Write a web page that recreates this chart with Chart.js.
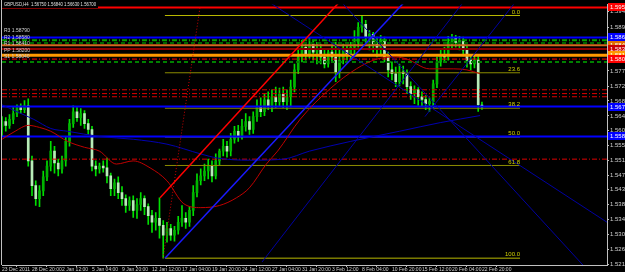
<!DOCTYPE html>
<html>
<head>
<meta charset="utf-8">
<script src="https://cdn.jsdelivr.net/npm/chart.js@4.4.0/dist/chart.umd.min.js"></script>
<style>
  html, body { margin: 0; padding: 0; background: #000; }
  #wrap { width: 625px; height: 272px; }
</style>
</head>
<body>
<div id="wrap"><canvas id="chart" width="625" height="272"></canvas></div>
<script>
// GBPUSD H4, one candle per two bars (bar index = 2 * i)
const opens = [1.5614,1.5628,1.5617,1.5634,1.5651,1.5668,1.5662,1.5673,1.5515,1.5444,
  1.5407,1.5429,1.5469,1.5500,1.5543,1.5509,1.5492,1.5515,1.5571,1.5622,
  1.5656,1.5639,1.5651,1.5622,1.5605,1.5500,1.5492,1.5500,1.5495,1.5472,
  1.5435,1.5452,1.5424,1.5407,1.5387,1.5401,1.5373,1.5390,1.5407,1.5384,
  1.5358,1.5339,1.5350,1.5330,1.5302,1.5321,1.5302,1.5316,1.5339,1.5350,
  1.5339,1.5373,1.5424,1.5458,1.5472,1.5486,1.5500,1.5472,1.5515,1.5543,
  1.5557,1.5543,1.5577,1.5600,1.5585,1.5614,1.5628,1.5605,1.5642,1.5670,
  1.5656,1.5690,1.5673,1.5699,1.5685,1.5707,1.5685,1.5699,1.5727,1.5776,
  1.5813,1.5841,1.5821,1.5850,1.5827,1.5838,1.5813,1.5793,1.5827,1.5813,
  1.5770,1.5804,1.5833,1.5821,1.5841,1.5855,1.5898,1.5907,1.5870,1.5878,
  1.5850,1.5841,1.5861,1.5813,1.5776,1.5765,1.5742,1.5770,1.5765,1.5728,
  1.5708,1.5719,1.5699,1.5691,1.5679,1.5685,1.5736,1.5799,1.5821,1.5813,
  1.5855,1.5867,1.5855,1.5861,1.5833,1.5804,1.5793,1.5804,1.5675];
const highs = [1.5642,1.5639,1.5648,1.5668,1.5676,1.5679,1.5688,1.5693,1.5529,1.5458,
  1.5444,1.5486,1.5515,1.5571,1.5557,1.5520,1.5529,1.5585,1.5634,1.5673,
  1.5668,1.5665,1.5659,1.5634,1.5614,1.5515,1.5509,1.5515,1.5523,1.5480,
  1.5463,1.5469,1.5441,1.5418,1.5412,1.5415,1.5407,1.5424,1.5415,1.5392,
  1.5373,1.5367,1.5409,1.5344,1.5339,1.5333,1.5327,1.5356,1.5387,1.5367,
  1.5384,1.5444,1.5478,1.5492,1.5506,1.5520,1.5515,1.5535,1.5549,1.5577,
  1.5571,1.5594,1.5614,1.5617,1.5634,1.5651,1.5642,1.5656,1.5690,1.5696,
  1.5707,1.5713,1.5719,1.5727,1.5724,1.5727,1.5719,1.5747,1.5793,1.5833,
  1.5861,1.5855,1.5867,1.5861,1.5855,1.5850,1.5833,1.5838,1.5844,1.5855,
  1.5833,1.5850,1.5844,1.5855,1.5889,1.5912,1.5932,1.5918,1.5889,1.5884,
  1.5870,1.5875,1.5870,1.5827,1.5799,1.5784,1.5793,1.5787,1.5776,1.5742,
  1.5730,1.5725,1.5713,1.5702,1.5696,1.5747,1.5813,1.5838,1.5841,1.5872,
  1.5878,1.5875,1.5872,1.5870,1.5844,1.5821,1.5821,1.5821,1.5684];
const lows = [1.5585,1.5600,1.5608,1.5622,1.5642,1.5651,1.5653,1.5500,1.5415,1.5387,
  1.5384,1.5415,1.5458,1.5486,1.5480,1.5472,1.5480,1.5500,1.5557,1.5611,
  1.5628,1.5617,1.5608,1.5591,1.5486,1.5472,1.5480,1.5483,1.5452,1.5415,
  1.5415,1.5407,1.5387,1.5367,1.5373,1.5353,1.5350,1.5373,1.5361,1.5333,
  1.5310,1.5316,1.5293,1.5236,1.5282,1.5287,1.5285,1.5305,1.5327,1.5321,
  1.5327,1.5358,1.5412,1.5446,1.5458,1.5463,1.5455,1.5463,1.5503,1.5529,
  1.5526,1.5529,1.5566,1.5571,1.5577,1.5600,1.5591,1.5594,1.5628,1.5642,
  1.5645,1.5662,1.5656,1.5668,1.5673,1.5668,1.5662,1.5670,1.5713,1.5765,
  1.5799,1.5804,1.5810,1.5804,1.5793,1.5793,1.5782,1.5784,1.5799,1.5742,
  1.5753,1.5793,1.5804,1.5804,1.5821,1.5841,1.5884,1.5855,1.5833,1.5827,
  1.5813,1.5821,1.5799,1.5756,1.5747,1.5728,1.5730,1.5736,1.5708,1.5691,
  1.5679,1.5674,1.5671,1.5662,1.5657,1.5668,1.5725,1.5787,1.5799,1.5804,
  1.5838,1.5841,1.5833,1.5816,1.5784,1.5776,1.5782,1.5657,1.5663];
const closes = [1.5628,1.5617,1.5634,1.5651,1.5668,1.5662,1.5673,1.5515,1.5444,1.5407,
  1.5429,1.5469,1.5500,1.5543,1.5509,1.5492,1.5515,1.5571,1.5622,1.5656,
  1.5639,1.5651,1.5622,1.5605,1.5500,1.5492,1.5500,1.5495,1.5472,1.5435,
  1.5452,1.5424,1.5407,1.5387,1.5401,1.5373,1.5390,1.5407,1.5384,1.5358,
  1.5339,1.5350,1.5330,1.5302,1.5321,1.5302,1.5316,1.5339,1.5350,1.5339,
  1.5373,1.5424,1.5458,1.5472,1.5486,1.5500,1.5472,1.5515,1.5543,1.5557,
  1.5543,1.5577,1.5600,1.5585,1.5614,1.5628,1.5605,1.5642,1.5670,1.5656,
  1.5690,1.5673,1.5699,1.5685,1.5707,1.5685,1.5699,1.5727,1.5776,1.5813,
  1.5841,1.5821,1.5850,1.5827,1.5838,1.5813,1.5793,1.5827,1.5813,1.5770,
  1.5804,1.5833,1.5821,1.5841,1.5855,1.5898,1.5907,1.5870,1.5878,1.5850,
  1.5841,1.5861,1.5813,1.5776,1.5765,1.5742,1.5770,1.5765,1.5728,1.5708,
  1.5719,1.5699,1.5691,1.5679,1.5685,1.5736,1.5799,1.5821,1.5813,1.5855,
  1.5867,1.5855,1.5861,1.5833,1.5804,1.5793,1.5804,1.5676,1.5670];

// time axis (bar index -> label)
const tickBars = [0,16,32,48,64,80,96,112,128,144,160,176,192,208,224,240,256];
const tickLabels = ['23 Dec 2011','28 Dec 20:00','2 Jan 12:00','5 Jan 04:00','9 Jan 20:00',
  '12 Jan 12:00','17 Jan 04:00','19 Jan 20:00','24 Jan 12:00','27 Jan 04:00','31 Jan 20:00',
  '3 Feb 12:00','8 Feb 04:00','10 Feb 20:00','15 Feb 12:00','20 Feb 04:00','22 Feb 20:00'];
const priceTicks = [1.59430,1.58990,1.58550,1.58150,1.57730,1.57290,1.56870,1.56440,1.56020,
  1.55590,1.55170,1.54740,1.54330,1.53890,1.53460,1.53040,1.52610,1.52190];

// moving averages [bar, price]
const redMA = [[0,1.5577],[7,1.5600],[14,1.5617],[20,1.5611],[26,1.5600],[35,1.5571],[44,1.5554],
  [52,1.5543],[61,1.5506],[70,1.5515],[79,1.5495],[88,1.5458],[97,1.5392],[106,1.5381],[116,1.5387],
  [125,1.5409],[132,1.5438],[141,1.5506],[147,1.5543],[159,1.5634],[175,1.5722],[189,1.5779],
  [200,1.5807],[210,1.5813],[216,1.5807],[228,1.5779],[241,1.5779],[248,1.5776],[255,1.5765]];
const blueMA = [[0,1.5676],[8,1.5656],[17,1.5634],[26,1.5608],[35,1.5600],[52,1.5585],[70,1.5577],
  [88,1.5563],[106,1.5535],[115,1.5523],[132,1.5517],[150,1.5520],[164,1.5543],[186,1.5571],
  [212,1.5600],[234,1.5625],[255,1.5645]];

// horizontal levels
const levelPrices = [1.5955,1.5869,1.5861,1.5853,1.5847,1.5836,1.5818,1.5807,1.5799,
  1.5719,1.5708,1.5699,1.5671,1.5585,1.5520];
const boxPrices = [1.5955,1.5869,1.5847,1.5836,1.5818,1.5807,1.5671,1.5585];

// trend lines [bar, price]
const redChannel = [[84.3,1.5409],[179.7,1.5969]];
const redDotted = [[85.9,1.5236],[105.6,1.5955]];
const blueTrend = [[86.9,1.5236],[214.4,1.5969]];
const navyA = [[138.7,1.5225],[245.9,1.5969]];
const navyB = [[225.6,1.5642],[273.6,1.5969]];
const navyC = [[181.3,1.5969],[309.9,1.5216]];
const navyD = [[142.9,1.5969],[322.7,1.5339]];

// fibonacci
const fibLevels = [0, 23.6, 38.2, 50, 61.8, 100];
const fibHigh = 1.5932, fibLow = 1.5236;
const fibStart = 86.9, fibEnd = 276.3;

const lineNotes = ['R3 1.58790', 'R2 1.58580', 'R1 1.58410', 'PP 1.58200', 'S1 1.58040'];
const notePrices = [1.5879, 1.5858, 1.5841, 1.5822, 1.5804];

const XMAX = 322.7;
const ff = '"Liberation Sans", Arial, sans-serif';

const levelStyles = [
  {c:'#ff0000', w:2}, {c:'#0000ff', w:2}, {c:'#00a000', w:2, d:[5,2,1,2]}, {c:'#006400', w:2, d:[4,3]},
  {c:'#d2691e', w:2}, {c:'#8b0000', w:2}, {c:'#ff9900', w:3}, {c:'#ff0000', w:1, d:[5,2,1,2]},
  {c:'#008000', w:2, d:[4,3]}, {c:'#dd0000', w:1, d:[5,2,1,2]}, {c:'#dd0000', w:1, d:[5,2,1,2]},
  {c:'#dd0000', w:1, d:[5,2,1,2]}, {c:'#0000ff', w:2}, {c:'#0000ff', w:2}, {c:'#dd0000', w:1, d:[5,2,1,2]}
];
const boxColors = ['#ff0000','#0000ff','#e07000','#cc0000','#ff9900','#ff0000','#0000ff','#0000ff'];
const fibColors = ['#b8b800','#8c8c00','#8c8c00','#b0b0b0','#8c8c00','#b8b800'];

function seg(points, color, width, dash, order) {
  return {
    type: 'line',
    data: points.map(p => ({x: p[0], y: p[1]})),
    borderColor: color, borderWidth: width, borderDash: dash || [],
    pointRadius: 0, fill: false, tension: 0, order: order || 1
  };
}

const datasets = [];
levelPrices.forEach((p, i) => {
  const s = levelStyles[i];
  datasets.push(seg([[0, p], [XMAX, p]], s.c, s.w, s.d, 2));
});
fibLevels.forEach((l, i) => {
  const p = fibHigh - (fibHigh - fibLow) * l / 100;
  datasets.push(seg([[fibStart, p], [fibEnd, p]], fibColors[i], 1, null, 3));
});
datasets.push(seg(redChannel, '#ff0000', 1.5));
datasets.push(seg(redDotted, '#cc0000', 1, [1,2]));
datasets.push(seg(blueTrend, '#1a1aff', 1.5));
[navyA, navyB, navyC, navyD].forEach(l => datasets.push(seg(l, '#0000a0', 1)));
datasets.push(Object.assign(seg(redMA, '#c00000', 1), {tension: 0.4, cubicInterpolationMode: 'monotone'}));
datasets.push(Object.assign(seg(blueMA, '#0000b0', 1), {tension: 0.4, cubicInterpolationMode: 'monotone'}));

// candles: wicks + bodies
datasets.push({
  type: 'bar', order: 6, grouped: false,
  data: highs.map((h, i) => ({x: i * 2, y: [lows[i], h]})),
  backgroundColor: '#00e000', barThickness: 1, borderWidth: 0
});
datasets.push({
  type: 'bar', order: 5, grouped: false, minBarLength: 1,
  data: opens.map((o, i) => ({x: i * 2, y: [o, closes[i]]})),
  backgroundColor: opens.map((o, i) => closes[i] >= o ? '#00b400' : '#b8ecb8'),
  barThickness: 2, borderWidth: 0
});

const overlay = {
  id: 'overlay',
  afterDraw(chart) {
    const ctx = chart.ctx, xs = chart.scales.x, ys = chart.scales.y;
    ctx.save();
    // left border
    ctx.strokeStyle = '#c0c0c0'; ctx.lineWidth = 1;
    ctx.beginPath(); ctx.moveTo(1.5, 0); ctx.lineTo(1.5, ys.bottom); ctx.stroke();
    // fib labels
    ctx.font = '6px ' + ff;
    ctx.textAlign = 'right'; ctx.textBaseline = 'bottom';
    ctx.fillStyle = '#d0d000';
    const xe = xs.getPixelForValue(fibEnd);
    fibLevels.forEach(l => {
      const p = fibHigh - (fibHigh - fibLow) * l / 100;
      ctx.fillText(l.toFixed(1), xe, ys.getPixelForValue(p) - 0.5);
    });
    // notes on the left
    ctx.textAlign = 'left'; ctx.textBaseline = 'bottom';
    ctx.font = '5px ' + ff;
    ctx.fillStyle = '#d0d0d0';
    lineNotes.forEach((t, i) => ctx.fillText(t, 4, ys.getPixelForValue(notePrices[i]) - 1, 32));
    // price boxes on the axis
    ctx.textBaseline = 'middle';
    ctx.font = '6px ' + ff;
    boxPrices.forEach((p, i) => {
      const y = Math.round(ys.getPixelForValue(p));
      ctx.fillStyle = boxColors[i];
      ctx.fillRect(xs.right + 1, y - 4, chart.width - xs.right, 8);
      ctx.fillStyle = '#ffffff';
      ctx.fillText(p.toFixed(5), xs.right + 3, y);
    });
    // header
    const hdr = 'GBPUSD,H4  ' + [opens[128], highs[128], lows[128], closes[128]].map(v => v.toFixed(5)).join(' ');
    ctx.fillStyle = '#000';
    ctx.fillRect(2, 0, 96, 8);
    ctx.fillStyle = '#e0e0e0';
    ctx.font = '6px ' + ff;
    ctx.fillText(hdr, 4, 4.5, 92);
    ctx.restore();
  }
};

new Chart(document.getElementById('chart'), {
  type: 'bar',
  data: { datasets },
  options: {
    responsive: false,
    animation: false,
    events: [],
    layout: { autoPadding: false, padding: { left: 2, top: 2, right: 0, bottom: 0 } },
    plugins: { legend: { display: false }, tooltip: { enabled: false } },
    scales: {
      x: {
        type: 'linear', min: 0, max: XMAX, offset: false,
        afterFit: s => { s.height = 7; },
        afterBuildTicks: s => { s.ticks = tickBars.map(v => ({value: v})); },
        ticks: {
          autoSkip: false, maxRotation: 0, align: 'start', padding: 0,
          color: '#d0d0d0', font: { size: 5, family: ff },
          callback: (v, i) => tickLabels[i]
        },
        grid: { drawOnChartArea: false, tickLength: 2, color: '#c0c0c0' },
        border: { color: '#c0c0c0' }
      },
      y: {
        type: 'linear', position: 'right', min: 1.52164, max: 1.59633,
        afterFit: s => { s.width = 18; },
        afterBuildTicks: s => { s.ticks = priceTicks.map(v => ({value: v})); },
        ticks: {
          autoSkip: false, padding: 1, color: '#d0d0d0', font: { size: 6, family: ff },
          callback: v => v.toFixed(5)
        },
        grid: { drawOnChartArea: false, tickLength: 2, color: '#c0c0c0' },
        border: { color: '#c0c0c0' }
      }
    }
  },
  plugins: [overlay]
});
</script>
</body>
</html>
